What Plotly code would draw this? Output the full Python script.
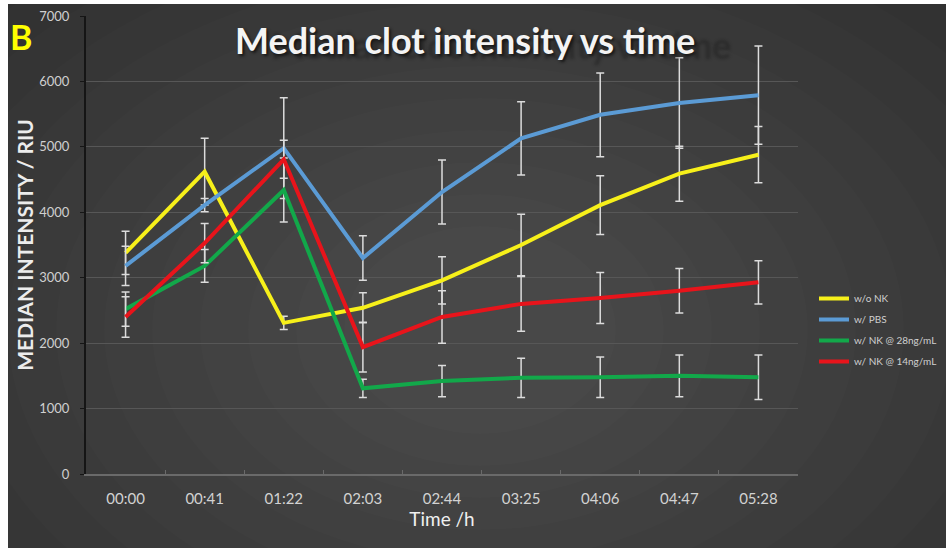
import plotly.graph_objects as go

# ---- data ----
times = ["00:00", "00:41", "01:22", "02:03", "02:44", "03:25", "04:06", "04:47", "05:28"]

wo_nk = [3380, 4620, 2310, 2540, 2960, 3500, 4110, 4590, 4880]
wo_nk_err = [330, 510, 100, 230, 360, 470, 450, 420, 430]

w_pbs = [3180, 4110, 4980, 3300, 4310, 5130, 5490, 5670, 5790]
w_pbs_err = [300, 100, 770, 340, 490, 560, 640, 690, 750]

w_nk28 = [2520, 3180, 4340, 1310, 1420, 1470, 1480, 1500, 1480]
w_nk28_err = [260, 250, 490, 140, 240, 300, 310, 320, 340]

w_nk14 = [2400, 3530, 4810, 1940, 2400, 2600, 2690, 2800, 2930]
w_nk14_err = [310, 300, 290, 380, 400, 420, 390, 340, 330]

series_names = ["w/o NK", "w/ PBS", "w/ NK @ 28ng/mL", "w/ NK @ 14ng/mL"]
series_vals = [wo_nk, w_pbs, w_nk28, w_nk14]
series_errs = [wo_nk_err, w_pbs_err, w_nk28_err, w_nk14_err]
series_colors = ["#f7f01a", "#5b9bd5", "#12a84a", "#e8141b"]

y_ticks = [0, 1000, 2000, 3000, 4000, 5000, 6000, 7000]

# ---- geometry helpers (pixel -> paper) ----
W, H = 946, 548
ML, MR, MT, MB = 86, 148, 16, 74
PW, PH = W - ML - MR, H - MT - MB


def px(x):
    return (x - ML) / PW


def py(y):
    return (H - MB - y) / PH


FONT = "Lato, 'Open Sans', sans-serif"

fig = go.Figure()
for i, (name, vals, errs, col) in enumerate(zip(series_names, series_vals, series_errs, series_colors)):
    fig.add_trace(go.Scatter(
        x=times, y=vals, name=name, mode="lines",
        line=dict(color=col, width=4),
        error_y=dict(type="data", array=errs, visible=True,
                     color="#dcdcdc", thickness=1.5, width=4),
        legendgroup="g%d" % i,
    ))

shapes = []
# radial-ish background glow
n = 14
cx, cy = 480, 330
for k in range(n):
    rx = 760 - k * 48
    ry = 520 - k * 32
    shapes.append(dict(type="circle", xref="paper", yref="paper", layer="below",
                       x0=px(cx - rx), x1=px(cx + rx), y0=py(cy + ry), y1=py(cy - ry),
                       fillcolor="rgba(255,255,255,0.012)", line=dict(width=0)))
# white border strips (left and top)
shapes.append(dict(type="rect", xref="paper", yref="paper", layer="below",
                   x0=px(-5), x1=px(8), y0=py(H + 5), y1=py(-5),
                   fillcolor="white", line=dict(width=0)))
shapes.append(dict(type="rect", xref="paper", yref="paper", layer="below",
                   x0=px(-5), x1=px(W + 5), y0=py(4), y1=py(-5),
                   fillcolor="white", line=dict(width=0)))

TITLE = "<b>Median clot intensity vs time</b>"
annotations = [
    dict(text=TITLE, xref="paper", yref="paper",
         x=px(465), y=py(40), xanchor="center", yanchor="middle", showarrow=False,
         font=dict(family=FONT, size=36, color="#f4f4f4",
                   shadow="2px 2px 3px #151515, 36px 5px 3px rgba(20,20,20,0.35)")),
    dict(text="<b>B</b>", xref="paper", yref="paper",
         x=px(8), y=py(36), xanchor="left", yanchor="middle", showarrow=False,
         font=dict(family=FONT, size=34, color="#ffff00")),
]

fig.update_layout(
    width=W, height=H,
    margin=dict(l=ML, r=MR, t=MT, b=MB, pad=0, autoexpand=False),
    paper_bgcolor="#2c2c2c",
    plot_bgcolor="rgba(0,0,0,0)",
    font=dict(family=FONT, color="#d0d0d0"),
    shapes=shapes,
    annotations=annotations,
    showlegend=True,
    legend=dict(x=px(814), y=py(284), xanchor="left", yanchor="top",
                bgcolor="rgba(0,0,0,0)", font=dict(family=FONT, size=10, color="#d0d0d0"),
                tracegroupgap=2, itemwidth=30),
)

fig.update_xaxes(
    type="category", range=[-0.5, len(times) - 0.5], showgrid=False,
    showline=True, linecolor="#6a6a6a", linewidth=1.5,
    ticks="inside", tickson="boundaries", ticklen=4, tickcolor="#6a6a6a",
    tickfont=dict(family=FONT, size=15, color="#d2d2d2"),
    ticklabelstandoff=10,
    title=dict(text="Time /h", font=dict(family=FONT, size=19, color="#f0f0f0"), standoff=5),
    zeroline=False,
)
fig.update_yaxes(
    range=[0, 7000], tickvals=y_ticks, ticktext=[str(v) for v in y_ticks],
    showgrid=True, gridcolor="#575757", gridwidth=1,
    showline=True, linecolor="#151515", linewidth=2,
    ticks="outside", ticklen=4, tickcolor="#151515",
    tickfont=dict(family=FONT, size=13, color="#d0d0d0"),
    ticklabelstandoff=8,
    title=dict(text="<b>MEDIAN INTENSITY / RIU</b>",
               font=dict(family=FONT, size=21, color="#ececec"), standoff=0),
    zeroline=False,
)

fig.write_html("out.html", config={"displayModeBar": False},
               post_script="document.body.style.margin='0';document.body.style.overflow='hidden';")
